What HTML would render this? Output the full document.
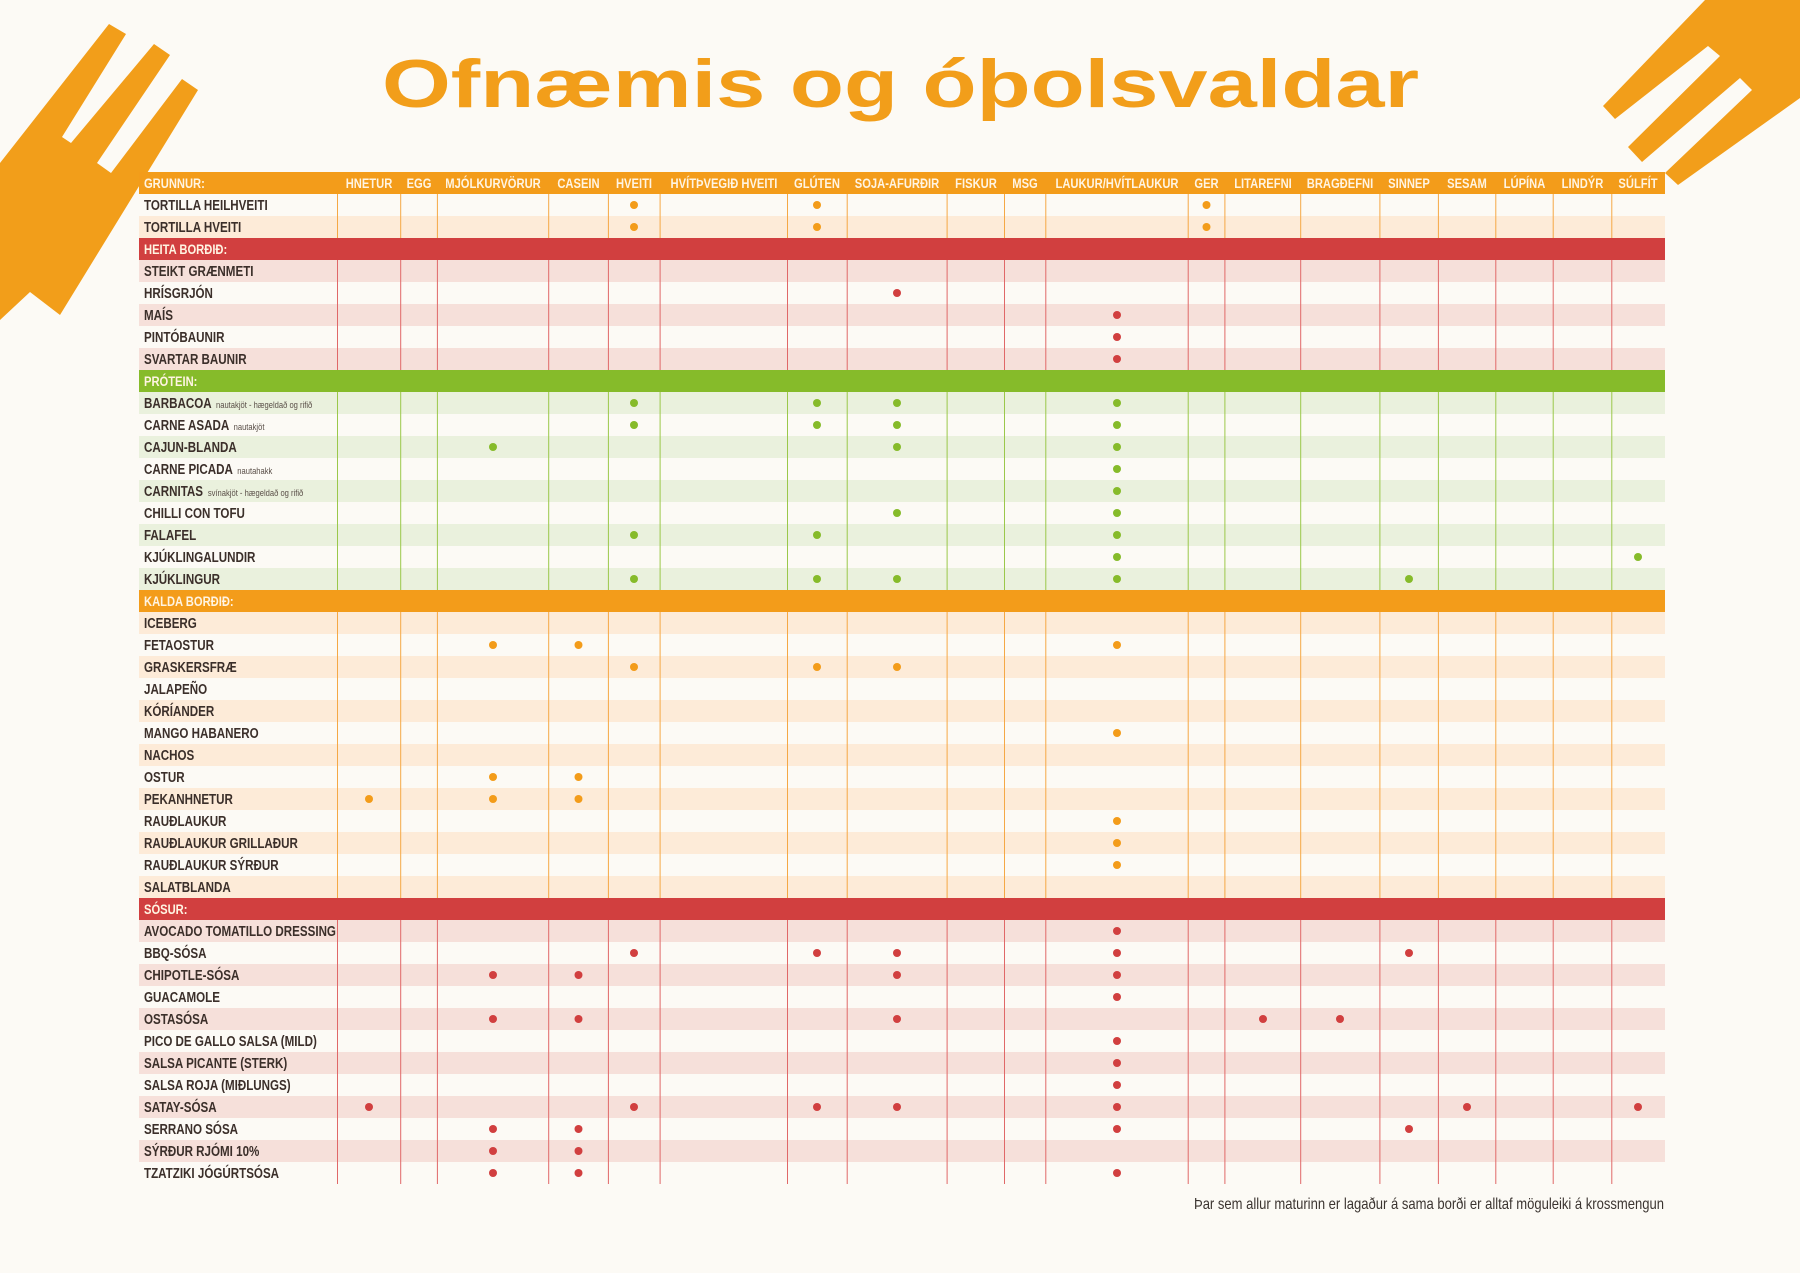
<!DOCTYPE html>
<html><head><meta charset="utf-8">
<style>
html,body{margin:0;padding:0;background:#fcfaf5;}
svg{display:block;}
.n{font-family:"Liberation Sans",sans-serif;font-weight:bold;font-size:14.5px;fill:#3b2f2a;}
.s{font-family:"Liberation Sans",sans-serif;font-size:9.5px;fill:#5a4f48;font-weight:normal;}
.h{font-family:"Liberation Sans",sans-serif;font-weight:bold;font-size:14px;fill:#fff4e2;}
.hc{text-anchor:middle;}
.fo{fill:#f39c1a}.fr{fill:#d13f3f}.fg{fill:#86bb2a}
.lo{stroke:#f5a845;stroke-width:1}.lr{stroke:#e06868;stroke-width:1}.lg{stroke:#9bc84a;stroke-width:1}
</style></head>
<body>
<svg width="1800" height="1273" viewBox="0 0 1800 1273" xmlns="http://www.w3.org/2000/svg">
<rect width="1800" height="1273" fill="#fcfaf5"/>
<polygon fill="#f29e1a" points="0,163 109,24 126,34 62,137 71,143 154,44 170,55 97,163 111,173 182,79 198,90 60,315 30,292 0,320"/>
<polygon fill="#f29e1a" points="1705,0 1603,106 1615,119 1708,46 1720,56 1628,147 1642,162 1740,78 1752,90 1665,173 1678,185 1800,98 1800,0"/>
<text x="382" y="107" textLength="1037" lengthAdjust="spacingAndGlyphs" font-family="Liberation Sans, sans-serif" font-weight="bold" font-size="68" fill="#f29e1a">Ofnæmis og óþolsvaldar</text>

<g>
<rect x="139" y="216" width="1526" height="22" fill="#fdebd8"/>
<rect x="139" y="260" width="1526" height="22" fill="#f6e0da"/>
<rect x="139" y="304" width="1526" height="22" fill="#f6e0da"/>
<rect x="139" y="348" width="1526" height="22" fill="#f6e0da"/>
<rect x="139" y="392" width="1526" height="22" fill="#eaf1dd"/>
<rect x="139" y="436" width="1526" height="22" fill="#eaf1dd"/>
<rect x="139" y="480" width="1526" height="22" fill="#eaf1dd"/>
<rect x="139" y="524" width="1526" height="22" fill="#eaf1dd"/>
<rect x="139" y="568" width="1526" height="22" fill="#eaf1dd"/>
<rect x="139" y="612" width="1526" height="22" fill="#fdebd8"/>
<rect x="139" y="656" width="1526" height="22" fill="#fdebd8"/>
<rect x="139" y="700" width="1526" height="22" fill="#fdebd8"/>
<rect x="139" y="744" width="1526" height="22" fill="#fdebd8"/>
<rect x="139" y="788" width="1526" height="22" fill="#fdebd8"/>
<rect x="139" y="832" width="1526" height="22" fill="#fdebd8"/>
<rect x="139" y="876" width="1526" height="22" fill="#fdebd8"/>
<rect x="139" y="920" width="1526" height="22" fill="#f6e0da"/>
<rect x="139" y="964" width="1526" height="22" fill="#f6e0da"/>
<rect x="139" y="1008" width="1526" height="22" fill="#f6e0da"/>
<rect x="139" y="1052" width="1526" height="22" fill="#f6e0da"/>
<rect x="139" y="1096" width="1526" height="22" fill="#f6e0da"/>
<rect x="139" y="1140" width="1526" height="22" fill="#f6e0da"/>
</g>

<rect x="139" y="172" width="1526" height="22" fill="#f39c1a"/>
<rect x="139" y="238" width="1526" height="22" fill="#d13f3f"/>
<rect x="139" y="370" width="1526" height="22" fill="#86bb2a"/>
<rect x="139" y="590" width="1526" height="22" fill="#f39c1a"/>
<rect x="139" y="898" width="1526" height="22" fill="#d13f3f"/>

<g>
<path class="lo" d="M337.5,194V238M400.7,194V238M437.4,194V238M548.7,194V238M608.4,194V238M660.1,194V238M787.5,194V238M847.2,194V238M947.1,194V238M1004.5,194V238M1045.8,194V238M1188.2,194V238M1224.9,194V238M1300.7,194V238M1379.9,194V238M1438.4,194V238M1495.8,194V238M1553.2,194V238M1611.8,194V238"/>
<path class="lr" d="M337.5,260V370M400.7,260V370M437.4,260V370M548.7,260V370M608.4,260V370M660.1,260V370M787.5,260V370M847.2,260V370M947.1,260V370M1004.5,260V370M1045.8,260V370M1188.2,260V370M1224.9,260V370M1300.7,260V370M1379.9,260V370M1438.4,260V370M1495.8,260V370M1553.2,260V370M1611.8,260V370"/>
<path class="lg" d="M337.5,392V590M400.7,392V590M437.4,392V590M548.7,392V590M608.4,392V590M660.1,392V590M787.5,392V590M847.2,392V590M947.1,392V590M1004.5,392V590M1045.8,392V590M1188.2,392V590M1224.9,392V590M1300.7,392V590M1379.9,392V590M1438.4,392V590M1495.8,392V590M1553.2,392V590M1611.8,392V590"/>
<path class="lo" d="M337.5,612V898M400.7,612V898M437.4,612V898M548.7,612V898M608.4,612V898M660.1,612V898M787.5,612V898M847.2,612V898M947.1,612V898M1004.5,612V898M1045.8,612V898M1188.2,612V898M1224.9,612V898M1300.7,612V898M1379.9,612V898M1438.4,612V898M1495.8,612V898M1553.2,612V898M1611.8,612V898"/>
<path class="lr" d="M337.5,920V1184M400.7,920V1184M437.4,920V1184M548.7,920V1184M608.4,920V1184M660.1,920V1184M787.5,920V1184M847.2,920V1184M947.1,920V1184M1004.5,920V1184M1045.8,920V1184M1188.2,920V1184M1224.9,920V1184M1300.7,920V1184M1379.9,920V1184M1438.4,920V1184M1495.8,920V1184M1553.2,920V1184M1611.8,920V1184"/>
</g>

<g class="h" transform="scale(0.8,1)">
<text x="180" y="188">GRUNNUR:</text>
<text class="hc" x="461.25" y="188">HNETUR</text>
<text class="hc" x="523.75" y="188">EGG</text>
<text class="hc" x="616.25" y="188">MJÓLKURVÖRUR</text>
<text class="hc" x="723.125" y="188">CASEIN</text>
<text class="hc" x="792.5" y="188">HVEITI</text>
<text class="hc" x="905" y="188">HVÍTÞVEGIÐ HVEITI</text>
<text class="hc" x="1021.25" y="188">GLÚTEN</text>
<text class="hc" x="1121.25" y="188">SOJA-AFURÐIR</text>
<text class="hc" x="1220" y="188">FISKUR</text>
<text class="hc" x="1281.25" y="188">MSG</text>
<text class="hc" x="1396.25" y="188">LAUKUR/HVÍTLAUKUR</text>
<text class="hc" x="1508.125" y="188">GER</text>
<text class="hc" x="1578.75" y="188">LITAREFNI</text>
<text class="hc" x="1675" y="188">BRAGÐEFNI</text>
<text class="hc" x="1761.25" y="188">SINNEP</text>
<text class="hc" x="1833.75" y="188">SESAM</text>
<text class="hc" x="1905.625" y="188">LÚPÍNA</text>
<text class="hc" x="1978.125" y="188">LINDÝR</text>
<text class="hc" x="2047.5" y="188">SÚLFÍT</text>
<text x="180" y="254">HEITA BORÐIÐ:</text>
<text x="180" y="386">PRÓTEIN:</text>
<text x="180" y="606">KALDA BORÐIÐ:</text>
<text x="180" y="914">SÓSUR:</text>
</g>

<g class="n" transform="scale(0.8,1)">
<text x="180" y="210">TORTILLA HEILHVEITI</text>
<text x="180" y="232">TORTILLA HVEITI</text>
<text x="180" y="276">STEIKT GRÆNMETI</text>
<text x="180" y="298">HRÍSGRJÓN</text>
<text x="180" y="320">MAÍS</text>
<text x="180" y="342">PINTÓBAUNIR</text>
<text x="180" y="364">SVARTAR BAUNIR</text>
<text x="180" y="408">BARBACOA <tspan class="s" dx="2">nautakjöt - hægeldað og rifið</tspan></text>
<text x="180" y="430">CARNE ASADA <tspan class="s" dx="2">nautakjöt</tspan></text>
<text x="180" y="452">CAJUN-BLANDA</text>
<text x="180" y="474">CARNE PICADA <tspan class="s" dx="2">nautahakk</tspan></text>
<text x="180" y="496">CARNITAS <tspan class="s" dx="2">svínakjöt - hægeldað og rifið</tspan></text>
<text x="180" y="518">CHILLI CON TOFU</text>
<text x="180" y="540">FALAFEL</text>
<text x="180" y="562">KJÚKLINGALUNDIR</text>
<text x="180" y="584">KJÚKLINGUR</text>
<text x="180" y="628">ICEBERG</text>
<text x="180" y="650">FETAOSTUR</text>
<text x="180" y="672">GRASKERSFRÆ</text>
<text x="180" y="694">JALAPEÑO</text>
<text x="180" y="716">KÓRÍANDER</text>
<text x="180" y="738">MANGO HABANERO</text>
<text x="180" y="760">NACHOS</text>
<text x="180" y="782">OSTUR</text>
<text x="180" y="804">PEKANHNETUR</text>
<text x="180" y="826">RAUÐLAUKUR</text>
<text x="180" y="848">RAUÐLAUKUR GRILLAÐUR</text>
<text x="180" y="870">RAUÐLAUKUR SÝRÐUR</text>
<text x="180" y="892">SALATBLANDA</text>
<text x="180" y="936">AVOCADO TOMATILLO DRESSING</text>
<text x="180" y="958">BBQ-SÓSA</text>
<text x="180" y="980">CHIPOTLE-SÓSA</text>
<text x="180" y="1002">GUACAMOLE</text>
<text x="180" y="1024">OSTASÓSA</text>
<text x="180" y="1046">PICO DE GALLO SALSA (MILD)</text>
<text x="180" y="1068">SALSA PICANTE (STERK)</text>
<text x="180" y="1090">SALSA ROJA (MIÐLUNGS)</text>
<text x="180" y="1112">SATAY-SÓSA</text>
<text x="180" y="1134">SERRANO SÓSA</text>
<text x="180" y="1156">SÝRÐUR RJÓMI 10%</text>
<text x="180" y="1178">TZATZIKI JÓGÚRTSÓSA</text>
</g>

<g class="fo">
<circle cx="634" cy="205" r="4"/><circle cx="817" cy="205" r="4"/><circle cx="1206.5" cy="205" r="4"/>
<circle cx="634" cy="227" r="4"/><circle cx="817" cy="227" r="4"/><circle cx="1206.5" cy="227" r="4"/>
<circle cx="493" cy="645" r="4"/><circle cx="578.5" cy="645" r="4"/><circle cx="1117" cy="645" r="4"/>
<circle cx="634" cy="667" r="4"/><circle cx="817" cy="667" r="4"/><circle cx="897" cy="667" r="4"/>
<circle cx="1117" cy="733" r="4"/>
<circle cx="493" cy="777" r="4"/><circle cx="578.5" cy="777" r="4"/>
<circle cx="369" cy="799" r="4"/><circle cx="493" cy="799" r="4"/><circle cx="578.5" cy="799" r="4"/>
<circle cx="1117" cy="821" r="4"/><circle cx="1117" cy="843" r="4"/><circle cx="1117" cy="865" r="4"/>
</g>
<g class="fr">
<circle cx="897" cy="293" r="4"/>
<circle cx="1117" cy="315" r="4"/><circle cx="1117" cy="337" r="4"/><circle cx="1117" cy="359" r="4"/>
<circle cx="1117" cy="931" r="4"/>
<circle cx="634" cy="953" r="4"/><circle cx="817" cy="953" r="4"/><circle cx="897" cy="953" r="4"/><circle cx="1117" cy="953" r="4"/><circle cx="1409" cy="953" r="4"/>
<circle cx="493" cy="975" r="4"/><circle cx="578.5" cy="975" r="4"/><circle cx="897" cy="975" r="4"/><circle cx="1117" cy="975" r="4"/>
<circle cx="1117" cy="997" r="4"/>
<circle cx="493" cy="1019" r="4"/><circle cx="578.5" cy="1019" r="4"/><circle cx="897" cy="1019" r="4"/><circle cx="1263" cy="1019" r="4"/><circle cx="1340" cy="1019" r="4"/>
<circle cx="1117" cy="1041" r="4"/><circle cx="1117" cy="1063" r="4"/><circle cx="1117" cy="1085" r="4"/>
<circle cx="369" cy="1107" r="4"/><circle cx="634" cy="1107" r="4"/><circle cx="817" cy="1107" r="4"/><circle cx="897" cy="1107" r="4"/><circle cx="1117" cy="1107" r="4"/><circle cx="1467" cy="1107" r="4"/><circle cx="1638" cy="1107" r="4"/>
<circle cx="493" cy="1129" r="4"/><circle cx="578.5" cy="1129" r="4"/><circle cx="1117" cy="1129" r="4"/><circle cx="1409" cy="1129" r="4"/>
<circle cx="493" cy="1151" r="4"/><circle cx="578.5" cy="1151" r="4"/>
<circle cx="493" cy="1173" r="4"/><circle cx="578.5" cy="1173" r="4"/><circle cx="1117" cy="1173" r="4"/>
</g>
<g class="fg">
<circle cx="634" cy="403" r="4"/><circle cx="817" cy="403" r="4"/><circle cx="897" cy="403" r="4"/><circle cx="1117" cy="403" r="4"/>
<circle cx="634" cy="425" r="4"/><circle cx="817" cy="425" r="4"/><circle cx="897" cy="425" r="4"/><circle cx="1117" cy="425" r="4"/>
<circle cx="493" cy="447" r="4"/><circle cx="897" cy="447" r="4"/><circle cx="1117" cy="447" r="4"/>
<circle cx="1117" cy="469" r="4"/><circle cx="1117" cy="491" r="4"/>
<circle cx="897" cy="513" r="4"/><circle cx="1117" cy="513" r="4"/>
<circle cx="634" cy="535" r="4"/><circle cx="817" cy="535" r="4"/><circle cx="1117" cy="535" r="4"/>
<circle cx="1117" cy="557" r="4"/><circle cx="1638" cy="557" r="4"/>
<circle cx="634" cy="579" r="4"/><circle cx="817" cy="579" r="4"/><circle cx="897" cy="579" r="4"/><circle cx="1117" cy="579" r="4"/><circle cx="1409" cy="579" r="4"/>
</g>

<text x="1664" y="1209" text-anchor="end" textLength="470" lengthAdjust="spacingAndGlyphs" font-family="Liberation Sans, sans-serif" font-size="16" fill="#3b3430">Þar sem allur maturinn er lagaður á sama borði er alltaf möguleiki á krossmengun</text>
</svg>
</body></html>
